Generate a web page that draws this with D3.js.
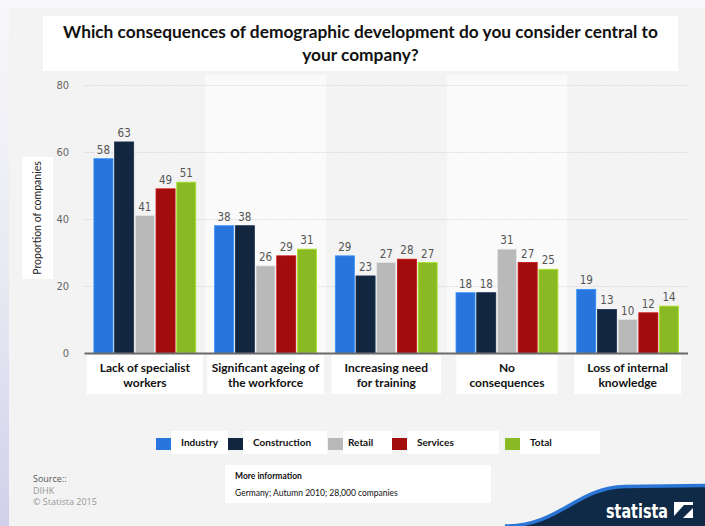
<!DOCTYPE html>
<html><head><meta charset="utf-8">
<script src="https://cdn.jsdelivr.net/npm/d3@7"></script>
<style>html,body{margin:0;padding:0;background:#f3f3f3;}svg{display:block;}</style>
</head><body>
<svg id="c" width="705" height="526"></svg>
<script>
const categories = ["Lack of specialist workers","Significant ageing of the workforce","Increasing need for training","No consequences","Loss of internal knowledge"];
const categoryLines = [["Lack of specialist","workers"],["Significant ageing of","the workforce"],["Increasing need","for training"],["No","consequences"],["Loss of internal","knowledge"]];
const seriesNames = ["Industry","Construction","Retail","Services","Total"];
const industry = [58,38,29,18,19];
const construction = [63,38,23,18,13];
const retail = [41,26,27,31,10];
const services = [49,29,28,27,12];
const total = [51,31,27,25,14];
const yTicks = [0,20,40,60,80];
const colors = ["#2876dd","#13263f","#b9b9b9","#a30c0c","#8aba23"];
const titleLines = ["Which consequences of demographic development do you consider central to","your company?"];

const seriesValues = [industry,construction,retail,services,total];
const svg = d3.select("#c");
const W = 705, H = 526;

// background
const defs = svg.append("defs");
const lg = defs.append("linearGradient").attr("id","lstrip").attr("x1",0).attr("y1",0).attr("x2",0).attr("y2",1);
lg.append("stop").attr("offset","0%").attr("stop-color","#f8f8fa");
lg.append("stop").attr("offset","55%").attr("stop-color","#e8e8f3");
lg.append("stop").attr("offset","100%").attr("stop-color","#d0d0ea");
svg.append("rect").attr("width",W).attr("height",H).attr("fill","#f3f3f3");
svg.append("rect").attr("width",W).attr("height",8).attr("fill","#f8f8fa");
svg.append("rect").attr("width",9).attr("height",H).attr("fill","url(#lstrip)");

// title
svg.append("rect").attr("x",43).attr("y",16).attr("width",635).attr("height",55).attr("fill","#fff");
const tt = svg.append("text").attr("text-anchor","middle").attr("font-family","Lato, sans-serif")
  .attr("font-weight","bold").attr("font-size",16.5).attr("fill","#111");
titleLines.forEach((l,i)=>tt.append("tspan").attr("x",360.5).attr("y",38+i*23).text(l));
{ const w = tt.select("tspan").node().getComputedTextLength(); tt.attr("font-size",16.5*595/w); }

// scales
const plotL = 84.5, plotR = 688, y0 = 353, yTop = 85;
const x0 = d3.scaleBand().domain(categories).range([plotL,plotR]).padding(0);
const bw = x0.bandwidth();
const x1 = d3.scaleBand().domain(seriesNames).range([bw*0.078,bw*0.922]).paddingInner(0.08).paddingOuter(0);
const y = d3.scaleLinear().domain([0,80]).range([y0,yTop]);

// alternating bands
svg.append("g").selectAll("rect").data(categories.filter((c,i)=>i%2===1)).join("rect")
  .attr("x",d=>x0(d)).attr("y",75).attr("width",bw).attr("height",y0-75).attr("fill","#fafafa");

// gridlines
svg.append("g").selectAll("line").data(yTicks.filter(t=>t>0)).join("line")
  .attr("x1",plotL).attr("x2",plotR).attr("y1",d=>y(d)+0.5).attr("y2",d=>y(d)+0.5)
  .attr("stroke","#c8c8c8").attr("stroke-dasharray","1,2");

// y axis
const yAxis = svg.append("g").attr("transform","translate(69,0)")
  .call(d3.axisLeft(y).tickValues(yTicks).tickSize(0).tickPadding(0));
yAxis.select(".domain").remove();
yAxis.selectAll("text").attr("font-family","'DejaVu Sans Condensed','DejaVu Sans',sans-serif")
  .attr("font-size",11).attr("fill","#666");

// y title
svg.append("rect").attr("x",22).attr("y",157).attr("width",31).attr("height",122).attr("fill","#fff");
svg.append("text").attr("transform","translate(41,218) rotate(-90)").attr("text-anchor","middle")
  .attr("font-family","Lato, sans-serif").attr("font-size",10.5).attr("fill","#222").text("Proportion of companies");

// bars
const groups = svg.append("g").selectAll("g").data(categories).join("g")
  .attr("transform",d=>`translate(${x0(d)},0)`);
groups.each(function(c,ci){
  const g = d3.select(this);
  const rows = seriesNames.map((s,si)=>({s, v: seriesValues[si][ci], col: colors[si]}));
  g.selectAll("rect").data(rows).join("rect")
    .attr("x",d=>x1(d.s)).attr("y",d=>y(d.v)).attr("width",x1.bandwidth()).attr("height",d=>y0-y(d.v))
    .attr("fill",d=>d.col).attr("stroke",d=>d3.color(d.col).brighter(0.6)).attr("stroke-width",0.8);
  g.selectAll("text").data(rows).join("text")
    .attr("x",d=>x1(d.s)+x1.bandwidth()/2).attr("y",d=>y(d.v)-5).attr("text-anchor","middle")
    .attr("font-family","'DejaVu Sans Condensed','DejaVu Sans',sans-serif").attr("font-size",11.5)
    .attr("fill","#555").text(d=>d.v);
});

// axis line
svg.append("line").attr("x1",plotL).attr("x2",plotR).attr("y1",y0+0.5).attr("y2",y0+0.5)
  .attr("stroke","#6b6b6b").attr("stroke-width",2);

// category labels
const catG = svg.append("g").selectAll("g").data(categories).join("g");
catG.each(function(c,ci){
  const g = d3.select(this);
  const cx = x0(c)+bw/2;
  const box = g.append("rect").attr("y",355).attr("height",39).attr("fill","#fff");
  const t = g.append("text").attr("text-anchor","middle").attr("font-family","Lato, sans-serif")
    .attr("font-weight","bold").attr("font-size",12).attr("fill","#111");
  categoryLines[ci].forEach((l,li)=>t.append("tspan").attr("x",cx).attr("y",372+li*14.5).text(l));
  const tw = d3.max(t.selectAll("tspan").nodes(),n=>n.getComputedTextLength());
  const bwid = Math.min(bw-4, Math.max(tw+26, 99));
  box.attr("x",cx-bwid/2).attr("width",bwid);
});

// legend
const legX = [156,228,328,392,505];
const legBoxW = [57,84,49,92,80];
const legTextPad = [10,10,5,10,10];
const leg = svg.append("g").selectAll("g").data(seriesNames).join("g");
leg.each(function(s,i){
  const g = d3.select(this);
  g.append("rect").attr("x",legX[i]+15).attr("y",431).attr("width",legBoxW[i]).attr("height",23).attr("fill","#fff");
  g.append("rect").attr("x",legX[i]).attr("y",438).attr("width",15).attr("height",12).attr("fill",colors[i]);
  g.append("text").attr("x",legX[i]+15+legTextPad[i]).attr("y",446).attr("font-family","Lato, sans-serif")
    .attr("font-weight","bold").attr("font-size",10).attr("fill","#111").text(s);
});

// source
const src = svg.append("g").attr("font-family","'Open Sans', sans-serif").attr("font-size",9);
src.append("text").attr("x",33).attr("y",482).attr("fill","#555").text("Source::");
src.append("text").attr("x",33).attr("y",493.5).attr("fill","#999").text("DIHK");
src.append("text").attr("x",33).attr("y",505).attr("fill","#999").text("© Statista 2015");

// more info
svg.append("rect").attr("x",225).attr("y",465).attr("width",266).attr("height",38).attr("fill","#fff");
svg.append("text").attr("x",235).attr("y",479).attr("font-family","Lato, sans-serif").attr("font-weight","bold")
  .attr("font-size",8.5).attr("fill","#111").text("More information");
svg.append("text").attr("x",235).attr("y",496).attr("font-family","Lato, sans-serif")
  .attr("font-size",8.5).attr("fill","#111").text("Germany; Autumn 2010; 28,000 companies");

// logo
svg.append("path").attr("d","M505,526 C560,526 575,488 625,486.5 L705,485.5 L705,526 Z").attr("fill","#0e2a47");
svg.append("path").attr("d","M505,526 C560,526 575,488 625,486.5 L705,485.5").attr("fill","none")
  .attr("stroke","#2a75d6").attr("stroke-width",3.5);
svg.append("text").attr("x",606).attr("y",518).attr("font-family","'DejaVu Sans Condensed','DejaVu Sans',sans-serif")
  .attr("font-weight","bold").attr("font-size",20).attr("fill","#fff")
  .attr("textLength",62).attr("lengthAdjust","spacingAndGlyphs").text("statista");
svg.append("rect").attr("x",674).attr("y",502).attr("width",19).attr("height",16).attr("fill","#fff");
svg.append("path").attr("d","M674,516 L684,505 L693,505 L693,508 L683,518 L674,518 Z").attr("fill","#0e2a47");
svg.append("path").attr("d","M674,514 L683,503 L674,503 Z").attr("fill","#0e2a47").attr("opacity",0);
</script>
</body></html>
